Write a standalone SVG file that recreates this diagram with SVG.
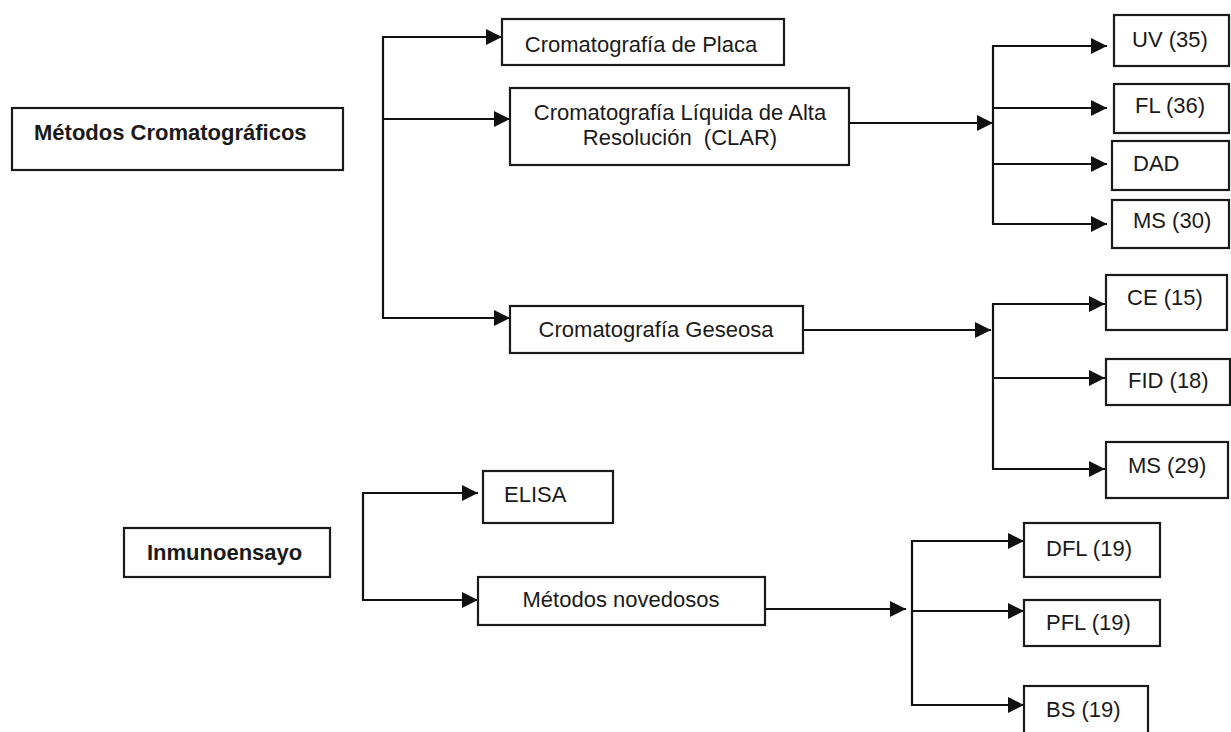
<svg xmlns="http://www.w3.org/2000/svg" width="1231" height="732" viewBox="0 0 1231 732">
<style>
.box{fill:#fff;stroke:#1a1a1a;stroke-width:2.2}
.t{font-family:"Liberation Sans",Arial,sans-serif;font-size:22px;fill:#1a1a1a;white-space:pre}
.b{font-weight:bold}
.m{text-anchor:middle}
.c{fill:none;stroke:#111;stroke-width:2.2}
</style>
<defs>
<marker id="ah" markerUnits="userSpaceOnUse" markerWidth="18" markerHeight="18" refX="16" refY="8" orient="auto">
<path d="M0,0 L16,8 L0,16 z" fill="#111"/>
</marker>
</defs>
<rect width="1231" height="732" fill="#fff"/>
<g id="connectors">
<path class="c" d="M383,37 V318"/>
<path class="c" d="M382,37 H502" marker-end="url(#ah)"/>
<path class="c" d="M382,119 H510" marker-end="url(#ah)"/>
<path class="c" d="M382,318 H510" marker-end="url(#ah)"/>
<path class="c" d="M849,123 H993" marker-end="url(#ah)"/>
<path class="c" d="M993,46 V224"/>
<path class="c" d="M992,46 H1107" marker-end="url(#ah)"/>
<path class="c" d="M992,108 H1107" marker-end="url(#ah)"/>
<path class="c" d="M992,164 H1107" marker-end="url(#ah)"/>
<path class="c" d="M992,224 H1107" marker-end="url(#ah)"/>
<path class="c" d="M803,330 H991" marker-end="url(#ah)"/>
<path class="c" d="M993,304 V469"/>
<path class="c" d="M992,304 H1105" marker-end="url(#ah)"/>
<path class="c" d="M992,378 H1105" marker-end="url(#ah)"/>
<path class="c" d="M992,469 H1105" marker-end="url(#ah)"/>
<path class="c" d="M363,493 V600"/>
<path class="c" d="M362,493 H478" marker-end="url(#ah)"/>
<path class="c" d="M362,600 H478" marker-end="url(#ah)"/>
<path class="c" d="M765,609 H906" marker-end="url(#ah)"/>
<path class="c" d="M912,541 V705"/>
<path class="c" d="M911,541 H1024" marker-end="url(#ah)"/>
<path class="c" d="M911,611 H1024" marker-end="url(#ah)"/>
<path class="c" d="M911,705 H1024" marker-end="url(#ah)"/>
</g>
<g id="n-metodos-crom"><rect class="box" x="12" y="108" width="331" height="62"/><text class="t b" x="34" y="140">Métodos Cromatográficos</text></g>
<g id="n-placa"><rect class="box" x="502" y="19" width="282" height="46"/><text class="t m" x="641" y="52">Cromatografía de Placa</text></g>
<g id="n-clar"><rect class="box" x="510" y="88" width="339" height="77"/><text class="t m" x="680" y="120">Cromatografía Líquida de Alta</text><text class="t m" x="680" y="145">Resolución  (CLAR)</text></g>
<g id="n-geseosa"><rect class="box" x="510" y="306" width="293" height="47"/><text class="t m" x="656" y="337">Cromatografía Geseosa</text></g>
<g id="n-uv"><rect class="box" x="1114" y="15" width="115" height="51"/><text class="t" x="1132" y="47">UV (35)</text></g>
<g id="n-fl"><rect class="box" x="1114" y="84" width="115" height="49"/><text class="t" x="1135" y="113">FL (36)</text></g>
<g id="n-dad"><rect class="box" x="1112" y="141" width="117" height="49"/><text class="t" x="1133" y="171">DAD</text></g>
<g id="n-ms30"><rect class="box" x="1112" y="200" width="117" height="48"/><text class="t" x="1133" y="228">MS (30)</text></g>
<g id="n-ce"><rect class="box" x="1106" y="275" width="121" height="55"/><text class="t" x="1127" y="305">CE (15)</text></g>
<g id="n-fid"><rect class="box" x="1106" y="359" width="124" height="46"/><text class="t" x="1128" y="388">FID (18)</text></g>
<g id="n-ms29"><rect class="box" x="1106" y="442" width="122" height="56"/><text class="t" x="1128" y="473">MS (29)</text></g>
<g id="n-inmuno"><rect class="box" x="124" y="528" width="206" height="49"/><text class="t b" x="147" y="560">Inmunoensayo</text></g>
<g id="n-elisa"><rect class="box" x="483" y="471" width="130" height="52"/><text class="t" x="504" y="502">ELISA</text></g>
<g id="n-novedosos"><rect class="box" x="478" y="577" width="287" height="48"/><text class="t m" x="621" y="607">Métodos novedosos</text></g>
<g id="n-dfl"><rect class="box" x="1024" y="523" width="136" height="54"/><text class="t" x="1046" y="556">DFL (19)</text></g>
<g id="n-pfl"><rect class="box" x="1024" y="600" width="136" height="46"/><text class="t" x="1046" y="630">PFL (19)</text></g>
<g id="n-bs"><rect class="box" x="1024" y="686" width="124" height="56"/><text class="t" x="1046" y="717">BS (19)</text></g>
</svg>
